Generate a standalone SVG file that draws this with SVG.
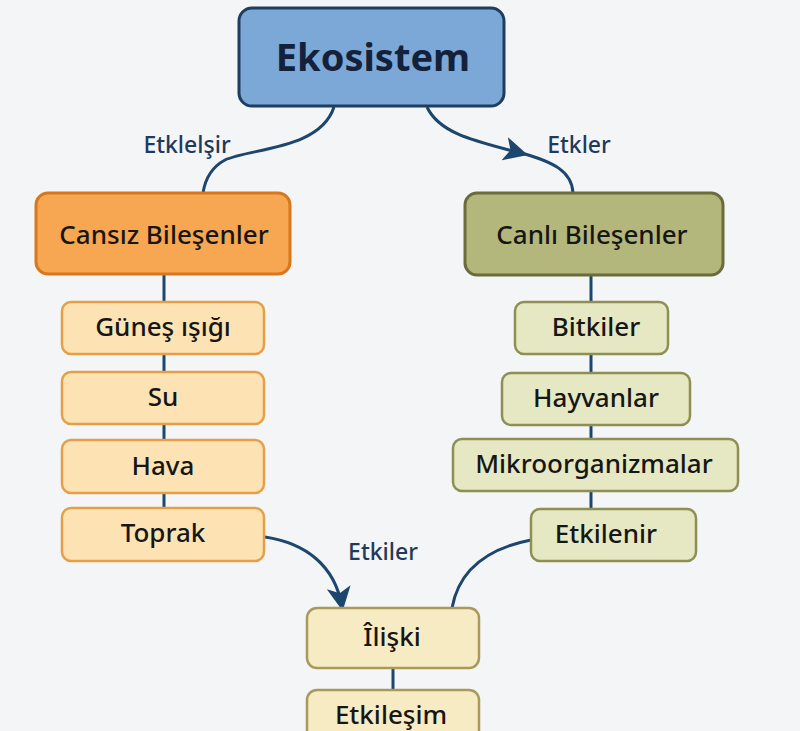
<svg xmlns="http://www.w3.org/2000/svg" width="800" height="731" viewBox="0 0 800 731">
<defs>
<style>
text{font-family:"Noto Sans","Liberation Sans",sans-serif;text-anchor:middle;dominant-baseline:central;fill:#161616}
.lbl{fill:#1e3a5c;font-size:23px;font-weight:500}
.item{font-size:26px;font-weight:500}
.con{fill:none;stroke:#1d466e;stroke-width:3}
.l{fill:#fde3b3;stroke:#e3a049;stroke-width:2.5}
.r{fill:#e5e8c2;stroke:#8d9052;stroke-width:2.5}
.b{fill:#f7ebc3;stroke:#a99a5c;stroke-width:2.5}
</style>
<marker id="ah" viewBox="0 0 12 12" refX="10" refY="6" markerWidth="8" markerHeight="8" orient="auto" markerUnits="strokeWidth"><path d="M0,0 L12,6 L0,12 L3,6 Z" fill="#1d466e"/></marker>
</defs>
<rect width="800" height="731" fill="#f4f5f6"/>
<g id="connectors">
<path class="con" d="M334,107 C320,150 250,148 225,160 C210,168 205,180 203,193"/>
<path class="con" d="M427,107 C440,135 480,142 524,154" marker-end="url(#ah)"/>
<path class="con" d="M518,152 C555,162 572,172 573,193"/>
<line class="con" x1="164" y1="274" x2="164" y2="302"/>
<line class="con" x1="164" y1="354" x2="164" y2="372"/>
<line class="con" x1="164" y1="424" x2="164" y2="440"/>
<line class="con" x1="164" y1="493" x2="164" y2="508"/>
<line class="con" x1="591" y1="275" x2="591" y2="302"/>
<line class="con" x1="591" y1="354" x2="591" y2="373"/>
<line class="con" x1="591" y1="425" x2="591" y2="439"/>
<line class="con" x1="591" y1="491" x2="591" y2="509"/>
<path class="con" d="M265,537 C305,543 335,565 342,607" marker-end="url(#ah)"/>
<path class="con" d="M531,540 C480,550 458,575 452,608"/>
<line class="con" x1="393" y1="668" x2="393" y2="690"/>
<text class="lbl" x="187" y="144">Etklelşir</text>
<text class="lbl" x="579" y="144">Etkler</text>
<text class="lbl" x="383" y="551">Etkiler</text>
</g>
<g id="ekosistem"><rect x="239" y="8" width="265" height="98" rx="13" fill="#7ca8d7" stroke="#1e3d5f" stroke-width="3"/><text x="373" y="56" font-size="38" font-weight="700" style="fill:#13223a">Ekosistem</text></g>
<g id="cansiz"><rect x="36" y="193" width="254" height="81" rx="12" fill="#f7a652" stroke="#d8771c" stroke-width="3"/><text class="item" x="164" y="234">Cansız Bileşenler</text></g>
<g id="canli"><rect x="465" y="193" width="258" height="82" rx="12" fill="#b4b77b" stroke="#6a6c3b" stroke-width="3"/><text class="item" x="592" y="234">Canlı Bileşenler</text></g>
<g id="gunes"><rect class="l" x="62" y="302" width="202" height="52" rx="9"/><text class="item" x="163" y="326">Güneş ışığı</text></g>
<g id="su"><rect class="l" x="62" y="372" width="202" height="52" rx="9"/><text class="item" x="163" y="396">Su</text></g>
<g id="hava"><rect class="l" x="62" y="440" width="202" height="53" rx="9"/><text class="item" x="163" y="465">Hava</text></g>
<g id="toprak"><rect class="l" x="62" y="508" width="202" height="53" rx="9"/><text class="item" x="163" y="532">Toprak</text></g>
<g id="bitkiler"><rect class="r" x="515" y="302" width="153" height="52" rx="9"/><text class="item" x="596" y="326">Bitkiler</text></g>
<g id="hayvanlar"><rect class="r" x="502" y="373" width="188" height="52" rx="9"/><text class="item" x="596" y="397">Hayvanlar</text></g>
<g id="mikro"><rect class="r" x="453" y="439" width="285" height="52" rx="9"/><text class="item" x="594" y="463">Mikroorganizmalar</text></g>
<g id="etkilenir"><rect class="r" x="531" y="509" width="165" height="52" rx="9"/><text class="item" x="606" y="533">Etkilenir</text></g>
<g id="iliski"><rect class="b" x="307" y="608" width="172" height="60" rx="10"/><text class="item" x="392" y="636">Îlişki</text></g>
<g id="etkilesim"><rect class="b" x="307" y="690" width="172" height="60" rx="10"/><text class="item" x="391" y="714">Etkileşim</text></g>
</svg>
